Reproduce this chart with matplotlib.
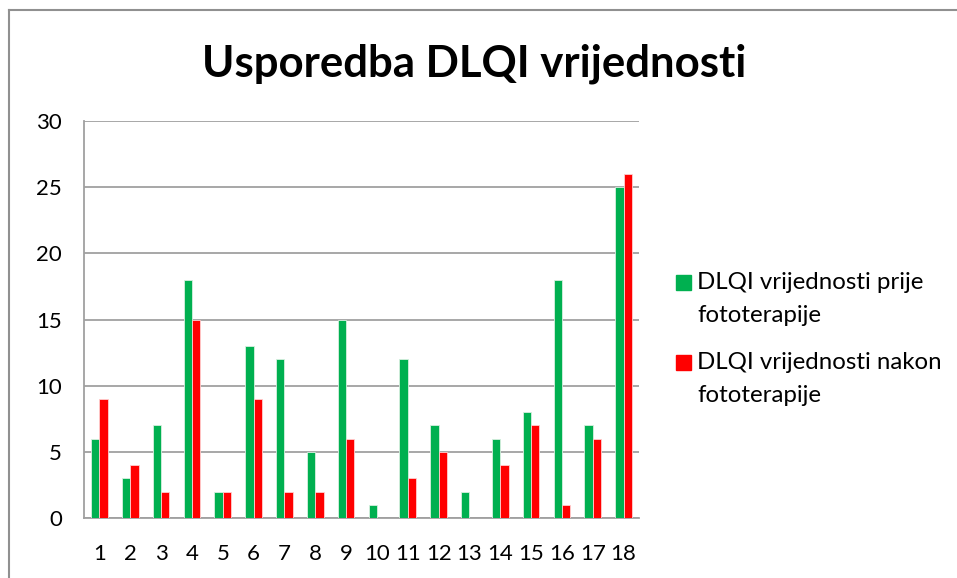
import matplotlib
matplotlib.use("Agg")
import matplotlib.pyplot as plt
import numpy as np
from matplotlib.patches import Rectangle
from matplotlib.lines import Line2D

categories = [str(i) for i in range(1, 19)]
before = [6, 3, 7, 18, 2, 13, 12, 5, 15, 1, 12, 7, 2, 6, 8, 18, 7, 25]
after = [9, 4, 2, 15, 2, 9, 2, 2, 6, 0, 3, 5, 0, 4, 7, 1, 6, 26]
series_names = ["DLQI vrijednosti prije\nfototerapije", "DLQI vrijednosti nakon\nfototerapije"]
colors = ["#00b050", "#ff0000"]
title = "Usporedba DLQI vrijednosti"
yticks = [0, 5, 10, 15, 20, 25, 30]

plt.rcParams['font.family'] = ['Lato', 'DejaVu Sans']

fig = plt.figure(figsize=(9.57, 5.78), dpi=100)
ax = fig.add_axes([84/957, 60/578, 555/957, 397/578])

x = np.arange(len(categories))
w = 0.27
ax.bar(x - w/2, before, width=w, color=colors[0], edgecolor="#d8f0e0", linewidth=0.6, zorder=3)
ax.bar(x + w/2, after, width=w, color=colors[1], edgecolor="#ffd0d0", linewidth=0.6, zorder=3)

ax.set_xlim(-0.5, len(categories) - 0.5)
ax.set_ylim(0, 30)
ax.set_yticks(yticks)
ax.set_yticklabels([str(t) for t in yticks], fontsize=16)
ax.set_xticks(x)
ax.set_xticklabels(categories, fontsize=16)
ax.tick_params(axis='both', length=0)
ax.tick_params(axis='x', pad=19)
ax.tick_params(axis='y', pad=16)
ax.yaxis.grid(True, color="#a0a0a0", linewidth=1.3, zorder=0)
ax.set_axisbelow(True)
for s in ["top", "right"]:
    ax.spines[s].set_visible(False)
for s in ["left", "bottom"]:
    ax.spines[s].set_color("#a0a0a0")
    ax.spines[s].set_linewidth(1.3)

fig.text(474/957, 1 - 64/578, title, ha="center", va="center", fontsize=31.5, fontweight="bold")

# legend drawn manually
leg_y = [283, 363]
for name, c, yy in zip(series_names, colors, leg_y):
    fig.patches.append(Rectangle((676/957, 1 - (yy + 7)/578), 15/957, 15/578,
                                 transform=fig.transFigure, color=c))
    fig.text(697/957, 1 - (yy - 11)/578, name, ha="left", va="top", fontsize=17.3,
             linespacing=1.7)

# outer chart border (left and top visible)
fig.add_artist(Line2D([9/957, 9/957], [0, 1 - 10/578], transform=fig.transFigure, color="#909090", linewidth=1.5))
fig.add_artist(Line2D([9/957, 1], [1 - 10/578, 1 - 10/578], transform=fig.transFigure, color="#909090", linewidth=1.5))

fig.savefig("out.png", dpi=100)
